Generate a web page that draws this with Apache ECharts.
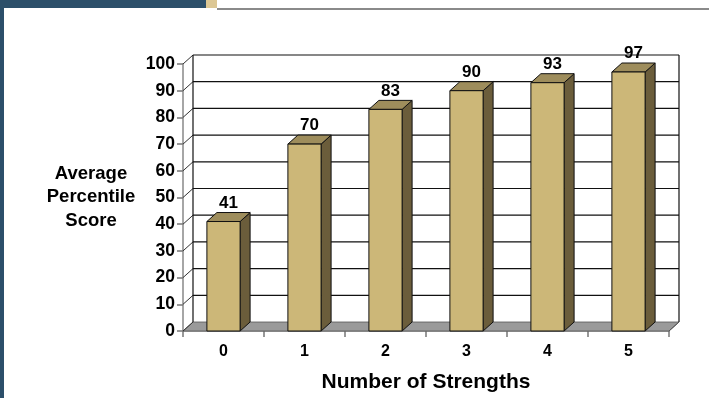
<!DOCTYPE html>
<html><head><meta charset="utf-8">
<script src="https://cdn.jsdelivr.net/npm/echarts@6/dist/echarts.min.js"></script>
<style>html,body{margin:0;padding:0;background:#fff}#c{width:709px;height:398px}</style>
</head><body><div id="c"></div>
<script>
const categories = ['0', '1', '2', '3', '4', '5'];
const values = [41, 70, 83, 90, 93, 97];
const yTicks = [0, 10, 20, 30, 40, 50, 60, 70, 80, 90, 100];

const DX = 10, DY = -9;
const FONT = '"Liberation Sans", Arial, sans-serif';
const chart = echarts.init(document.getElementById('c'));

function wallItem(params, api) {
  const ch = [];
  const p0 = api.coord([0, 0]);
  const size = api.size([1, 0])[0];
  const left = p0[0] - size / 2;
  const right = left + size * categories.length;
  const bottom = p0[1];
  const top = api.coord([0, 100])[1];
  ch.push({type: 'polygon', shape: {points: [[left, bottom], [right, bottom], [right + DX, bottom + DY], [left + DX, bottom + DY]]},
    style: {fill: '#9a9a9a', stroke: '#555', lineWidth: 0.8}});
  yTicks.forEach(t => {
    const y = api.coord([0, t])[1];
    if (t > 0) ch.push({type: 'line', shape: {x1: left + DX, y1: y + DY, x2: right + DX, y2: y + DY}, style: {stroke: '#111', lineWidth: 1.2}});
    ch.push({type: 'line', shape: {x1: left, y1: y, x2: left + DX, y2: y + DY}, style: {stroke: '#333', lineWidth: 1}});
  });
  ch.push({type: 'line', shape: {x1: left + DX, y1: top + DY, x2: left + DX, y2: bottom + DY}, style: {stroke: '#111', lineWidth: 1.2}});
  ch.push({type: 'line', shape: {x1: right + DX, y1: top + DY, x2: right + DX, y2: bottom + DY}, style: {stroke: '#111', lineWidth: 1.2}});
  ch.push({type: 'line', shape: {x1: right, y1: bottom, x2: right + DX, y2: bottom + DY}, style: {stroke: '#555', lineWidth: 1}});
  return {type: 'group', children: ch, silent: true};
}

function barItem(params, api) {
  const idx = api.value(0), v = api.value(1);
  const top = api.coord([idx, v]);
  const base = api.coord([idx, 0]);
  const w = api.size([1, 0])[0] * 0.41;
  const x0 = top[0] - w / 2, x1 = top[0] + w / 2;
  const y0 = top[1], y1 = base[1];
  return {type: 'group', children: [
    {type: 'polygon', shape: {points: [[x1, y0], [x1 + DX, y0 + DY], [x1 + DX, y1 + DY], [x1, y1]]}, style: {fill: '#6b5d3b', stroke: '#111', lineWidth: 1}},
    {type: 'polygon', shape: {points: [[x0, y0], [x0 + DX, y0 + DY], [x1 + DX, y0 + DY], [x1, y0]]}, style: {fill: '#9e8d5c', stroke: '#111', lineWidth: 1}},
    {type: 'rect', shape: {x: x0, y: y0, width: w, height: y1 - y0}, style: {fill: '#ccb778', stroke: '#111', lineWidth: 1}},
    {type: 'text', x: top[0] + DX / 2, y: y0 + DY - 1, style: {text: String(v), textAlign: 'center', textVerticalAlign: 'bottom', font: 'bold 17px ' + FONT, fill: '#000'}}
  ]};
}

chart.setOption({
  animation: false,
  backgroundColor: '#fff',
  grid: {left: 183, top: 64, width: 486, height: 267},
  xAxis: {
    type: 'category', data: categories,
    axisLine: {lineStyle: {color: '#888', width: 1.5}},
    axisTick: {show: true, length: 6, lineStyle: {color: '#777', width: 1.5}},
    axisLabel: {margin: 13, color: '#000', fontFamily: FONT, fontWeight: 'bold', fontSize: 16},
    name: 'Number of Strengths', nameLocation: 'middle', nameGap: 41,
    nameTextStyle: {color: '#000', fontFamily: FONT, fontWeight: 'bold', fontSize: 21}
  },
  yAxis: {
    type: 'value', min: 0, max: 100, interval: 10,
    axisLine: {show: true, lineStyle: {color: '#888', width: 1.5}},
    axisTick: {show: true, length: 6, lineStyle: {color: '#777', width: 1.5}},
    axisLabel: {margin: 8, color: '#000', fontFamily: FONT, fontWeight: 'bold', fontSize: 17.5},
    splitLine: {show: false}
  },
  graphic: [
    {type: 'rect', left: 0, top: 0, shape: {width: 206, height: 8}, style: {fill: '#2c4f6a'}, z: 10},
    {type: 'rect', left: 0, top: 0, shape: {width: 4, height: 398}, style: {fill: '#2c4f6a'}, z: 10},
    {type: 'rect', left: 206, top: 0, shape: {width: 11, height: 8}, style: {fill: '#dcc794'}, z: 10},
    {type: 'rect', left: 217, top: 8, shape: {width: 492, height: 2}, style: {fill: '#8a8a8a'}, z: 10},
    {type: 'text', x: 91, y: 197, style: {text: 'Average\nPercentile\nScore', textAlign: 'center', textVerticalAlign: 'middle', font: 'bold 18.5px ' + FONT, lineHeight: 23.5, fill: '#000'}}
  ],
  series: [
    {type: 'custom', renderItem: wallItem, data: [[0]], z: 1, silent: true},
    {type: 'custom', renderItem: barItem, data: values.map((v, i) => [i, v]), z: 3, encode: {x: 0, y: 1}}
  ]
});
</script></body></html>
